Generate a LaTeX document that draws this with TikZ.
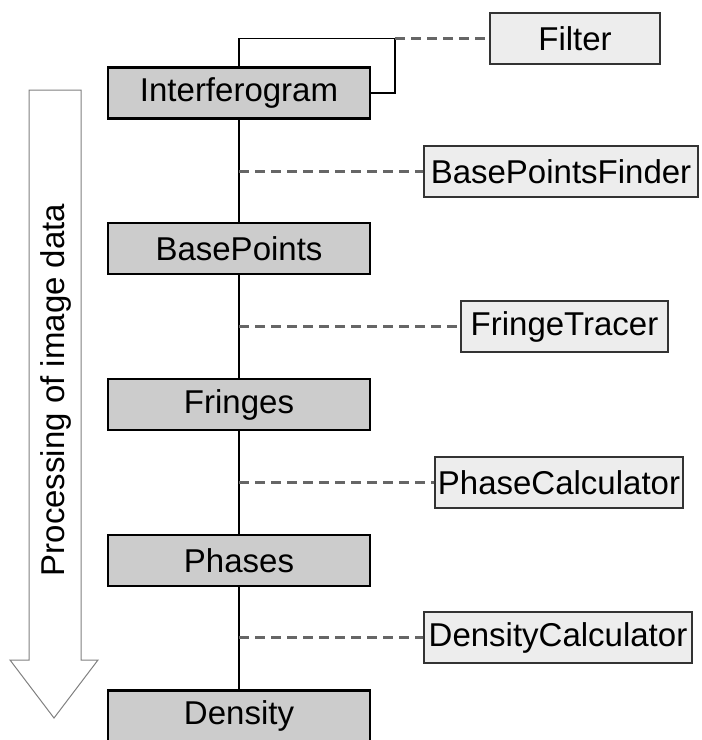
\documentclass[tikz,border=0pt]{standalone}
\usepackage{fontspec}
\setmainfont{Liberation Sans}
\begin{document}
\begin{tikzpicture}[x=1pt,y=-1pt,
  every node/.style={font=\fontsize{33}{39}\selectfont, inner sep=0pt},
  mainbox/.style={draw=black, line width=2.4pt, fill=black!20, minimum width=262pt, minimum height=51pt},
  subbox/.style={draw=black!80, line width=1.4pt, fill=black!7, minimum height=51pt},
  flow/.style={draw=black, line width=1.2pt},
  assoc/.style={draw=black!60, line width=2.4pt, dash pattern=on 10pt off 6pt}]
\useasboundingbox (0,0) rectangle (702,740);
\clip (0,0) rectangle (702,740);
% process arrow
\draw[draw=black!50, line width=1pt, fill=white, line join=miter]
  (29,90) -- (81,90) -- (81,660) -- (98,660) -- (54,718) -- (10,660) -- (29,660) -- cycle;
\node[rotate=90] (proc) at (56,390) {Processing of image data};
% main boxes
\node[mainbox] (interf) at (239,93) {Interferogram};
\node[mainbox] (bp) at (239,248.5) {BasePoints};
\node[mainbox] (fr) at (239,404.5) {Fringes};
\node[mainbox] (ph) at (239,560.5) {Phases};
\node[mainbox] (de) at (239,716) {Density};
% sub boxes
\node[subbox, minimum width=170pt] (filter) at (575,38.5) {Filter};
\node[subbox, minimum width=274pt] (bpf) at (561,171.5) {BasePointsFinder};
\node[subbox, minimum width=207pt] (ft) at (564.5,326.5) {FringeTracer};
\node[subbox, minimum width=248pt] (pc) at (559,482.5) {PhaseCalculator};
\node[subbox, minimum width=268pt] (dc) at (558,637.5) {DensityCalculator};
% flow lines
\coordinate (fj) at (395,38.5);
\draw[flow] (interf.north) |- (fj) |- (interf.east);
\draw[flow] (interf.south) -- (bp.north);
\draw[flow] (bp.south) -- (fr.north);
\draw[flow] (fr.south) -- (ph.north);
\draw[flow] (ph.south) -- (de.north);
% associations
\draw[assoc] (fj) -- (filter.west);
\coordinate (c1) at (239,171.5);
\coordinate (c2) at (239,326.5);
\coordinate (c3) at (239,482.5);
\coordinate (c4) at (239,637.5);
\draw[assoc] (c1) -- (bpf.west);
\draw[assoc] (c2) -- (ft.west);
\draw[assoc] (c3) -- (pc.west);
\draw[assoc] (c4) -- (dc.west);
\end{tikzpicture}
\end{document}
